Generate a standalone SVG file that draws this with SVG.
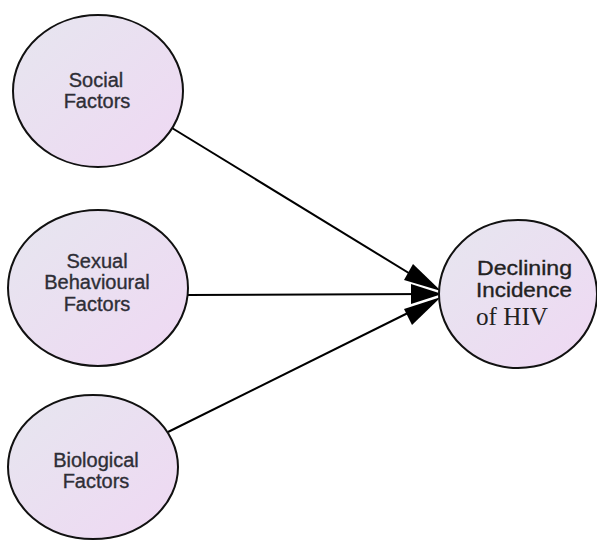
<svg xmlns="http://www.w3.org/2000/svg" width="597" height="540" viewBox="0 0 597 540">
<defs>
<linearGradient id="g" x1="0" y1="0" x2="1" y2="1">
<stop offset="0" stop-color="#e6e6ef"/>
<stop offset="1" stop-color="#efd8f3"/>
</linearGradient>
<style>
.n{fill:url(#g);stroke:#111;stroke-width:2}
.t{font-family:"Liberation Sans",Arial,sans-serif;font-size:20px;fill:#2e2e36;stroke:#2e2e36;stroke-width:0.35;text-anchor:middle}
.tb{font-family:"Liberation Sans",Arial,sans-serif;font-size:21px;fill:#222;stroke:#222;stroke-width:0.35}
.ts{font-family:"Liberation Serif","Times New Roman",serif;font-size:25px;fill:#222}
.c{stroke:#000;stroke-width:2;fill:none}
.a{fill:#000}
</style>
</defs>
<rect width="597" height="540" fill="#fff"/>
<g id="connectors">
<line class="c" x1="172" y1="128" x2="430" y2="286"/>
<polygon class="a" points="441,291 413,264 404,280"/>
<line class="c" x1="188" y1="295" x2="430" y2="294"/>
<polygon class="a" points="442,294 411,284 411,304"/>
<line class="c" x1="168" y1="432" x2="430" y2="302"/>
<polygon class="a" points="441,297 404,309 412,325"/>
</g>
<g id="social">
<ellipse class="n" cx="98" cy="91" rx="85" ry="76"/>
<text class="t" x="96" y="87">Social</text>
<text class="t" x="97" y="108">Factors</text>
</g>
<g id="sexual">
<ellipse class="n" cx="98" cy="288" rx="90" ry="78"/>
<text class="t" x="97" y="268">Sexual</text>
<text class="t" x="97" y="289">Behavioural</text>
<text class="t" x="97" y="311">Factors</text>
</g>
<g id="biological">
<ellipse class="n" cx="93" cy="467" rx="85" ry="72"/>
<text class="t" x="96" y="467">Biological</text>
<text class="t" x="96" y="488">Factors</text>
</g>
<g id="declining">
<ellipse class="n" cx="518" cy="294" rx="79" ry="74"/>
<text class="tb" x="477" y="275" textLength="95" lengthAdjust="spacingAndGlyphs">Declining</text>
<text class="tb" x="476" y="297" textLength="96" lengthAdjust="spacingAndGlyphs">Incidence</text>
<text class="ts" x="476" y="325" textLength="72" lengthAdjust="spacingAndGlyphs">of HIV</text>
</g>
</svg>
